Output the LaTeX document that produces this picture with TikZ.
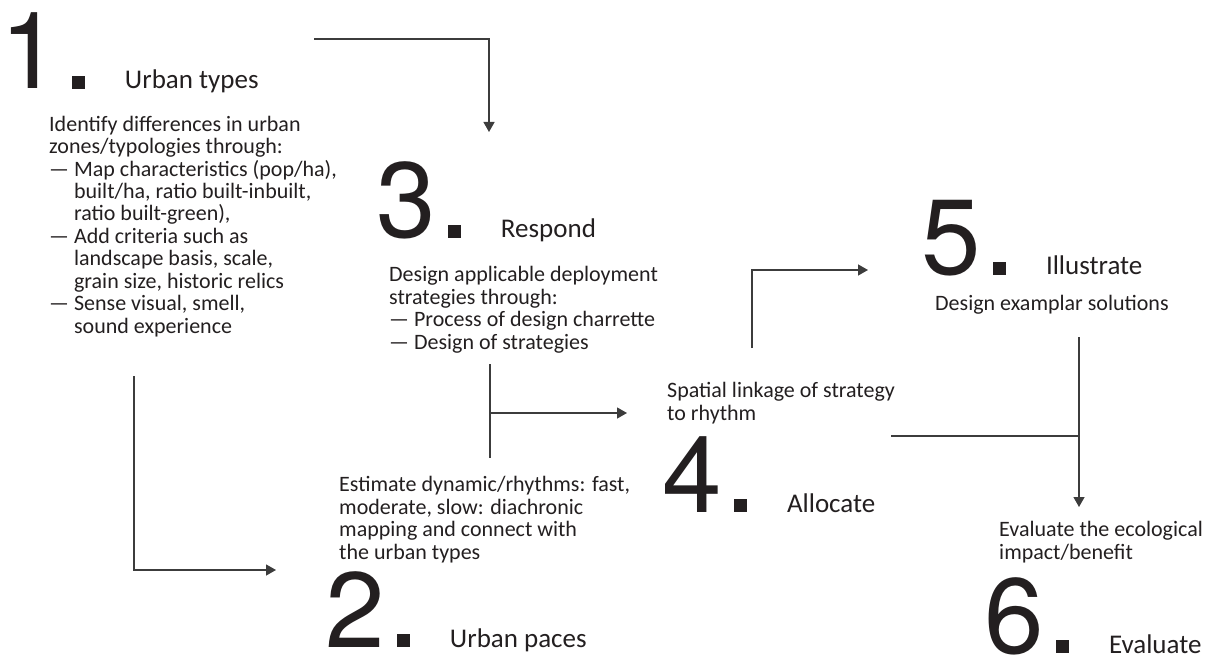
\documentclass[tikz,border=0pt]{standalone}
\usepackage{fontspec}
\setmainfont{Carlito}
\newfontfamily\numfont{TeX Gyre Heros}
\usetikzlibrary{arrows.meta}
\usetikzlibrary{positioning}
\definecolor{ink}{HTML}{231F20}
\definecolor{wire}{HTML}{3C3C3C}
\newcommand{\subindent}{\hphantom{—\ }}

\begin{document}
\begin{tikzpicture}[x=1pt,y=-1pt,>={Triangle[length=10pt,width=11pt]}]
 \tikzstyle{num node}=[anchor=base west,inner sep=0,text=ink,font=\numfont\fontsize{107}{107}\selectfont]
 \tikzstyle{dot node}=[rectangle,fill=ink,inner sep=0,minimum size=12.5pt]
 \tikzstyle{head node}=[inner sep=0,text=ink,font=\fontsize{27}{27}\selectfont]
 \tikzset{
   body node/.style={anchor=base west,inner sep=0,align=left,text=ink,font=\fontsize{22}{22.4}\selectfont},
   link/.style={draw=wire,line width=1.3pt}
 }
 \useasboundingbox (0,0) rectangle (1215,660);

 % step numbers
 \node[num node] (num1) at (0,89) {1};
 \node[num node] (num3) at (376,238) {3};
 \node[num node] (num5) at (921,275) {5};
 \node[num node] (num4) at (662,512) {4};
 \node[num node] (num2) at (325,647) {2};
 \node[num node] (num6) at (984,653) {6};

 % squares and headings
 \foreach \i/\head in {1/Urban types,3/Respond,5/Illustrate,4/Allocate,2/Urban paces,6/Evaluate}{
   \node[dot node,right=12pt of num\i.base east,anchor=south west] (sq\i) {};
   \node[head node,right=40pt of sq\i.south east,anchor=base west] (head\i) {\head};
 }

 % texts (base = last line)
 \node[body node] (txt1) at (49,333) {Identify differences in urban\\zones/typologies through:\\— Map characteristics (pop/ha),\\\subindent built/ha, ratio built-inbuilt,\\\subindent ratio built-green),\\— Add criteria such as\\\subindent landscape basis, scale,\\\subindent grain size, historic relics\\— Sense visual, smell,\\\subindent sound experience};
 \node[body node] (txt3) at (389,349) {Design applicable deployment\\strategies through:\\— Process of design charrette\\— Design of strategies};
 \node[body node] (txt5) at (935,310) {Design examplar solutions};
 \node[body node] (txt4) at (667,420) {Spatial linkage of strategy\\to rhythm};
 \node[body node] (txt2) at (339,559) {Estimate dynamic/rhythms: fast,\\moderate, slow: diachronic\\mapping and connect with\\the urban types};
 \node[body node] (txt6) at (999,559) {Evaluate the ecological\\impact/benefit};

 % connector ends
 \coordinate (a1) at (314,39);
 \coordinate (a2) at (489,132);
 \coordinate (b1) at (134,376);
 \coordinate (b2) at (276,570);
 \coordinate (c1) at (490,364);
 \coordinate (c2) at (490,458);
 \coordinate (c3) at (627,413);
 \coordinate (d1) at (752,348);
 \coordinate (d2) at (868,270);
 \coordinate (e1) at (891,436);
 \coordinate (e2) at (1079,337);
 \coordinate (e3) at (1079,507);

 \path[link,->] (a1) -| (a2);
 \path[link,->] (b1) |- (b2);
 \path[link] (c1) -- (c2);
 \path[link,->] (c1 |- c3) -- (c3);
 \path[link,->] (d1) |- (d2);
 \path[link] (e1) -- (e1 -| e2);
 \path[link,->] (e2) -- (e3);
\end{tikzpicture}
\end{document}
